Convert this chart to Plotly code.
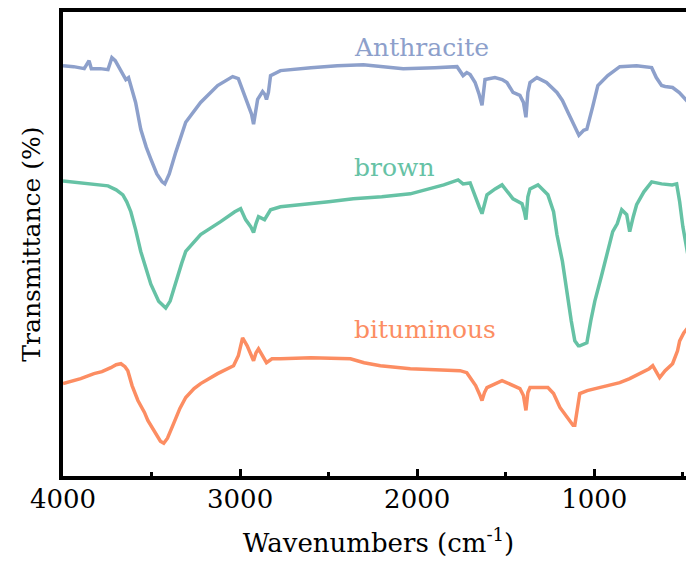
import plotly.graph_objects as go

# Anthracite spectrum (wavenumber cm-1, transmittance a.u.)
anth_w = [4000, 3940, 3880, 3853, 3840, 3790, 3746, 3724, 3705, 3684, 3660, 3645, 3630, 3611, 3590, 3561,
          3530, 3504, 3470, 3440, 3425, 3400, 3363, 3307, 3260, 3223, 3127, 3042, 3010, 2997, 2958, 2935,
          2924, 2910, 2901, 2873, 2860, 2851, 2840, 2828, 2800, 2772, 2600, 2451, 2304, 2079, 1900, 1775,
          1741, 1720, 1701, 1673, 1650, 1634, 1617, 1590, 1561, 1520, 1493, 1459, 1420, 1400, 1386, 1375,
          1363, 1324, 1270, 1211, 1180, 1149, 1110, 1087, 1060, 1042, 1010, 980, 924, 856, 761, 700, 676,
          650, 620, 600, 558, 520, 479, 460, 445, 437]
anth_px = [63, 64, 66, 58, 66, 66, 67, 55, 58, 65, 72, 77, 75, 87, 100, 127,
           145, 157, 172, 180, 182, 172, 150, 120, 108, 100, 83, 74, 76, 82, 100, 112,
           122, 108, 97, 89, 92, 97, 90, 73, 70, 68, 65, 63, 62, 66, 65, 64,
           73, 70, 72, 80, 92, 103, 77, 76, 75, 77, 80, 90, 93, 100, 115, 90,
           80, 75, 80, 90, 98, 110, 125, 133, 128, 127, 105, 83, 73, 64, 63, 64, 65,
           75, 83, 84, 85, 90, 98, 92, 83, 80]

brown_w = [4000, 3900, 3800, 3746, 3700, 3662, 3640, 3617, 3590, 3561, 3530, 3504, 3460, 3420, 3395, 3363,
           3330, 3307, 3260, 3223, 3110, 3030, 2997, 2969, 2940, 2924, 2910, 2896, 2862, 2850, 2828, 2772,
           2642, 2500, 2361, 2200, 2039, 1927, 1850, 1769, 1741, 1701, 1673, 1650, 1634, 1615, 1606, 1560,
           1521, 1459, 1408, 1395, 1386, 1375, 1363, 1318, 1262, 1230, 1211, 1180, 1155, 1130, 1110, 1090,
           1082, 1060, 1042, 1020, 997, 960, 930, 896, 870, 845, 817, 800, 780, 761, 720, 676, 620, 560,
           535, 518, 500, 473, 460, 445, 437]
brown_px = [179, 181, 183, 184, 188, 193, 200, 210, 228, 250, 268, 283, 300, 307, 300, 280,
            262, 250, 240, 233, 220, 210, 207, 218, 225, 231, 222, 215, 218, 214, 208, 205,
            203, 200, 197, 195, 192, 187, 183, 178, 182, 181, 193, 205, 212, 200, 193, 187,
            183, 197, 202, 210, 218, 195, 187, 183, 193, 210, 233, 260, 293, 320, 340, 345,
            345, 343, 342, 320, 300, 275, 253, 230, 222, 208, 213, 230, 215, 203, 190, 180, 182, 183,
            182, 200, 225, 252, 250, 233, 225]

bitu_w = [4000, 3900, 3825, 3780, 3730, 3700, 3673, 3650, 3634, 3610, 3577, 3540, 3521, 3480, 3450, 3431,
          3410, 3375, 3340, 3307, 3260, 3223, 3127, 3037, 3010, 2986, 2960, 2924, 2910, 2896, 2875, 2851,
          2820, 2772, 2600, 2377, 2300, 2208, 2039, 1900, 1758, 1720, 1701, 1670, 1645, 1634, 1620, 1606,
          1521, 1460, 1420, 1400, 1386, 1375, 1363, 1262, 1230, 1194, 1150, 1120, 1110, 1095, 1082, 1040,
          969, 900, 856, 800, 744, 690, 670, 650, 631, 600, 558, 530, 518, 495, 473, 455, 439]
bitu_px = [383, 378, 373, 371, 367, 364, 363, 366, 370, 385, 400, 412, 420, 433, 441, 443,
           438, 423, 408, 397, 388, 383, 373, 365, 355, 337, 345, 360, 352, 348, 355, 362,
           358, 358, 357, 358, 362, 365, 368, 369, 370, 372, 377, 385, 395, 400, 392, 387,
           380, 385, 388, 395, 410, 392, 387, 387, 393, 407, 417, 425, 425, 410, 393, 390,
           387, 384, 382, 378, 373, 368, 365, 372, 377, 370, 363, 350, 340, 332, 327, 310, 293]

BASE = 476
anth_t = [BASE - v for v in anth_px]
brown_t = [BASE - v for v in brown_px]
bitu_t = [BASE - v for v in bitu_px]

series = [
    ("Anthracite", anth_w, anth_t, "#8DA0CB"),
    ("brown", brown_w, brown_t, "#66C2A5"),
    ("bituminous", bitu_w, bitu_t, "#FC8D62"),
]
label_y = [431, 310, 147]

FONT = "DejaVu Serif"
fig = go.Figure()
for (name, w, t, c) in series:
    fig.add_trace(go.Scatter(x=w, y=t, mode="lines", name=name,
                             line=dict(color=c, width=3.5), showlegend=False))
for (name, w, t, c), ly in zip(series, label_y):
    fig.add_annotation(x=2366, y=ly, text=name, showarrow=False, xanchor="left",
                       yanchor="middle", font=dict(family=FONT, size=25, color=c))

fig.update_layout(
    width=686, height=558,
    margin=dict(l=55, r=0, t=2, b=90),
    plot_bgcolor="white", paper_bgcolor="white",
    font=dict(family=FONT, size=26, color="black"),
    xaxis=dict(range=[4000, 437], showgrid=False, zeroline=False,
               showline=True, linecolor="black", linewidth=4, mirror=True,
               ticks="inside", ticklen=7, tickwidth=3, tickcolor="black",
               tickvals=[4000, 3000, 2000, 1000],
               ticklabelstandoff=-3,
               minor=dict(tickvals=[3500, 2500, 1500, 500], ticks="inside", ticklen=4,
                          tickwidth=3, tickcolor="black"),
               tickfont=dict(family=FONT, size=26, color="black"),
               title=dict(text="Wavenumbers (cm<sup>-1</sup>)", standoff=22,
                          font=dict(family=FONT, size=26, color="black"))),
    yaxis=dict(range=[0, 467], showgrid=False, zeroline=False,
               showline=True, linecolor="black", linewidth=4,
               showticklabels=False, ticks="",
               title=dict(text="Transmittance (%)", standoff=12,
                          font=dict(family=FONT, size=25, color="black"))),
)
fig.write_html("out.html")
